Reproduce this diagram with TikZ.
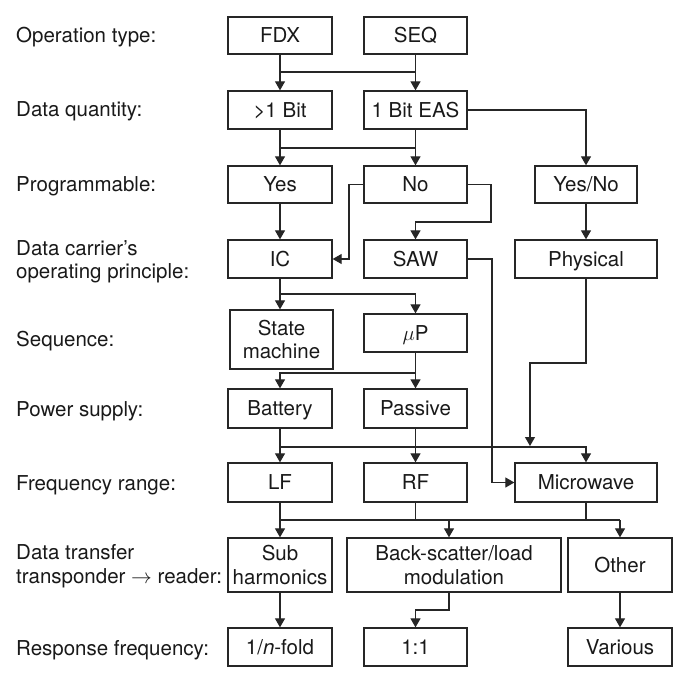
\documentclass[tikz,border=0pt]{standalone}
\usepackage{fontspec}
\setmainfont{TeX Gyre Heros}
\usetikzlibrary{arrows.meta,calc}
\newcommand\mybox[6]{\node[box,oneline,minimum width={(#4)-(#2)},minimum height={(#5)-(#3)}] (#1) at ({((#2)+(#4))/2},{((#3)+(#5))/2}) {#6};}
\newcommand\mybigbox[6]{\node[box,minimum width={(#4)-(#2)},minimum height={(#5)-(#3)}] (#1) at ({((#2)+(#4))/2},{((#3)+(#5))/2}) {#6};}
\begin{document}
\begin{tikzpicture}[x=1pt,y=-1pt,
  box/.style={draw=black!85, line width=1.3pt, inner sep=0pt, align=center, font=\fontsize{20.5}{23.5}\selectfont, text=black!90},
  oneline/.style={text height=19.3pt, text depth=4.5pt},
  lbl/.style={anchor=base west, align=left, inner sep=0pt, font=\fontsize{20.5}{23.5}\selectfont, text=black!90},
  ln/.style={line width=1.2pt, draw=black!85},
  arr/.style={ln, -{Triangle[length=9pt,width=10pt]}}]
\useasboundingbox (0,0) rectangle (684,682);
% boxes
\mybox{fdx}{228}{17}{332}{54}{FDX}
\mybox{seq}{364}{17}{467}{54}{SEQ}
\mybox{gt1}{228}{91}{332}{129}{>1 Bit}
\mybox{eas}{364}{91}{467}{129}{1 Bit EAS}
\mybox{yes}{228}{166}{332}{203}{Yes}
\mybox{no}{364}{166}{467}{203}{No}
\mybox{yn}{535}{166}{637}{203}{Yes/No}
\mybox{ic}{228}{240}{332}{278}{IC}
\mybox{saw}{364}{240}{467}{278}{SAW}
\mybox{phys}{515}{240}{657}{278}{Physical}
\mybigbox{sm}{230}{310}{333}{369}{State\\machine}
\mybox{up}{364}{314}{467}{352}{$\mu$P}
\mybox{bat}{228}{389}{332}{428}{Battery}
\mybox{pas}{364}{389}{467}{428}{Passive}
\mybox{lf}{228}{463}{332}{502}{LF}
\mybox{rf}{364}{463}{467}{502}{RF}
\mybox{mw}{515}{463}{657}{502}{Microwave}
\mybigbox{sub}{228}{538}{332}{592}{Sub\\harmonics}
\mybigbox{bs}{347}{538}{561}{592}{Back-scatter/load\\modulation}
\mybox{oth}{568}{538}{672}{592}{Other}
\mybox{nf}{228}{628}{332}{666}{1/\textit{n}-fold}
\mybox{one}{364}{628}{467}{666}{1:1}
\mybox{var}{568}{628}{672}{666}{Various}
% labels
\node[lbl] (l1) at (16,43) {Operation type:};
\node[lbl] (l2) at (16,116.5) {Data quantity:};
\node[lbl] (l3) at (16,191.5) {Programmable:};
\node[lbl] (l4) at (16,278.5) {Data carrier’s\\operating principle:};
\node[lbl] (l5) at (16,346.5) {Sequence:};
\node[lbl] (l6) at (16,416.5) {Power supply:};
\node[lbl] (l7) at (16,490) {Frequency range:};
\node[lbl] (l8) at (16,583) {Data transfer\\transponder $\rightarrow$ reader:};
\node[lbl] (l9) at (16,655) {Response frequency:};
% junction coordinates
\coordinate (j1) at (280,72);
\coordinate (j2) at (280,148);
\coordinate (c1) at (349,220);
\coordinate (c2) at (491,222);
\coordinate (c3) at (492,400);
\coordinate (j3) at (280,294);
\coordinate (j4) at (416,373);
\coordinate (c4) at (530,363);
\coordinate (c5) at (530,446);
\coordinate (j5) at (280,447);
\coordinate (j6) at (280,520);
\coordinate (j6c) at (449,520);
\coordinate (j6r) at (620,520);
\coordinate (c7) at (449,610);
% connectors
\draw[arr] (fdx) -- (gt1);
\draw[arr] (seq) -- (eas);
\draw[ln] (j1) -- (seq.south |- j1);
\draw[arr] (gt1) -- (yes);
\draw[arr] (eas) -- (no);
\draw[ln] (j2) -- (eas.south |- j2);
\draw[arr] (eas.east) -| (yn.north);
\draw[arr] (yes) -- (ic);
\draw[arr] (no.west) -| (c1) |- (ic.east);
\draw[arr] (no.east) -| (c2) -| (saw.north);
\draw[arr] (yn) -- (phys);
\draw[arr] (saw.east) -| (c3) |- (mw.west);
\draw[arr] (ic.south) -- (ic.south |- sm.north);
\draw[arr] (j3) -| (up.north);
\draw[arr] (up) -- (pas);
\draw[arr] (j4) -| (bat.north);
\draw[arr] (phys.south) |- (c4) -- (c5);
\draw[arr] (bat) -- (lf);
\draw[arr] (pas) -- (rf);
\draw[arr] (j5) -| (mw.north);
\draw[arr] (lf) -- (sub);
\draw[ln] (rf.south) -- (rf.south |- j6);
\draw[ln] (mw.south) -- (mw.south |- j6);
\draw[ln] (j6) -- (j6r);
\draw[arr] (j6c) -- (bs.north -| j6c);
\draw[arr] (j6r) -- (oth.north);
\draw[arr] (sub) -- (nf);
\draw[arr] (bs.south -| j6c) -- (c7) -| (one.north);
\draw[arr] (oth) -- (var);
\end{tikzpicture}
\end{document}
